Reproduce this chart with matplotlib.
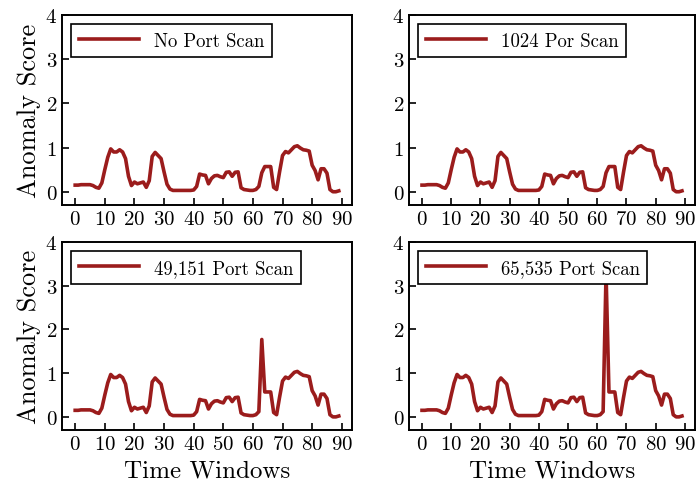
import numpy as np
import matplotlib
matplotlib.use("Agg")
import matplotlib.pyplot as plt

plt.rcParams['font.family'] = 'cmr10'
plt.rcParams['mathtext.fontset'] = 'cm'
plt.rcParams['axes.unicode_minus'] = False
plt.rcParams['axes.formatter.use_mathtext'] = True

# anomaly score per time window, normal traffic
baseline = [0.15, 0.15, 0.16, 0.16, 0.16, 0.16, 0.14, 0.10, 0.08, 0.20,
            0.50, 0.78, 0.97, 0.90, 0.90, 0.95, 0.90, 0.75, 0.35, 0.14,
            0.22, 0.18, 0.20, 0.22, 0.10, 0.25, 0.80, 0.89, 0.82, 0.75,
            0.45, 0.17, 0.06, 0.03, 0.03, 0.03, 0.03, 0.03, 0.03, 0.03,
            0.04, 0.12, 0.40, 0.38, 0.37, 0.18, 0.30, 0.36, 0.37, 0.34,
            0.32, 0.44, 0.45, 0.35, 0.44, 0.45, 0.09, 0.05, 0.04, 0.03,
            0.03, 0.05, 0.12, 0.43, 0.57, 0.57, 0.57, 0.10, 0.05, 0.45,
            0.82, 0.91, 0.88, 0.95, 1.02, 1.04, 0.99, 0.95, 0.94, 0.92,
            0.60, 0.48, 0.27, 0.52, 0.52, 0.42, 0.05, 0.00, 0.00, 0.02]

labels = ["No Port Scan", "1024 Por Scan", "49,151 Port Scan", "65,535 Port Scan"]
scan_window = 63
scan_peak = [None, None, 1.77, 3.28]

color = '#9b1c1c'

fig = plt.figure(figsize=(6.99, 4.89), dpi=100)
W, H = 699.0, 489.0
boxes = [(62, 16, 290, 190), (409, 16, 286, 190),
         (62, 243, 290, 188), (409, 243, 286, 188)]

for i, (l, t, w, h) in enumerate(boxes):
    ax = fig.add_axes([l / W, 1 - (t + h) / H, w / W, h / H])
    y = np.array(baseline)
    if scan_peak[i] is not None:
        y[scan_window] = scan_peak[i]
    x = np.arange(len(y))
    ax.plot(x, y, color=color, lw=2.6, label=labels[i])
    ax.set_ylim(-0.3, 4.0)
    ax.set_xticks(np.arange(0, 91, 10))
    ax.set_yticks(np.arange(0, 5, 1))
    ax.tick_params(direction='in', length=5, width=1.2, labelsize=15,
                   top=False, right=False)
    for s in ax.spines.values():
        s.set_linewidth(1.4)
    leg = ax.legend(loc='upper left', fontsize=13.5, handlelength=3.2,
                    fancybox=False, framealpha=1, edgecolor='black',
                    borderaxespad=0.5)
    leg.get_frame().set_linewidth(1.2)
    if i % 2 == 0:
        ax.set_ylabel("Anomaly Score", fontsize=19, labelpad=3)
    if i >= 2:
        ax.set_xlabel("Time Windows", fontsize=18, labelpad=5)

fig.savefig("out.png", dpi=100)
